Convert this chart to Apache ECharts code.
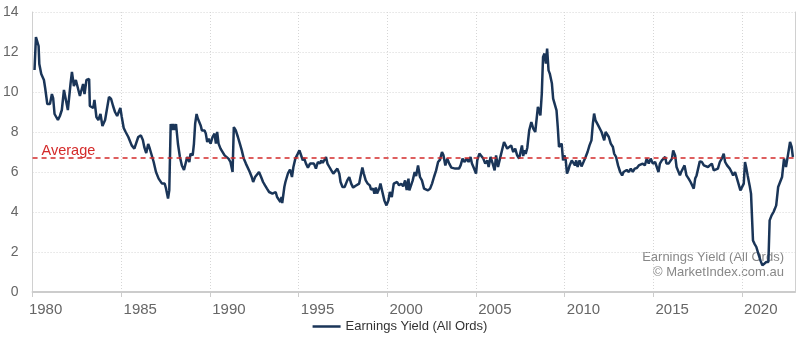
<!DOCTYPE html>
<html>
<head>
<meta charset="utf-8">
<script src="https://cdn.jsdelivr.net/npm/echarts@6/dist/echarts.min.js"></script>
<style>
html,body{margin:0;padding:0;background:#fff;}
#chart{width:800px;height:344px;}
</style>
</head>
<body>
<div id="chart"></div>
<script>
// Decimal-year positions of the observations
const years = [
1980.11,1980.19,1980.26,1980.34,1980.38,1980.49,1980.64,1980.71,1980.83,1980.98,
1981.09,1981.16,1981.24,1981.43,1981.54,1981.65,1981.77,1981.88,1981.99,
1982.14,1982.22,1982.33,1982.44,1982.55,1982.67,1982.74,1982.85,1982.93,
1983.04,1983.19,1983.23,1983.31,1983.42,1983.49,1983.60,1983.71,1983.83,1983.94,
1984.09,1984.20,1984.31,1984.43,1984.54,1984.65,1984.77,1984.88,1984.95,
1985.03,1985.14,1985.25,1985.40,1985.50,1985.59,1985.74,1985.85,1985.96,
1986.11,1986.22,1986.30,1986.41,1986.52,1986.60,1986.71,1986.83,1986.96,
1987.11,1987.30,1987.45,1987.52,1987.64,1987.71,1987.79,1987.86,1987.93,
1988.01,1988.09,1988.20,1988.31,1988.42,1988.54,1988.65,1988.72,1988.84,1988.91,
1989.03,1989.10,1989.17,1989.25,1989.32,1989.40,1989.48,1989.55,1989.62,1989.70,1989.77,1989.85,1989.93,
1990.04,1990.15,1990.26,1990.34,1990.41,1990.49,1990.60,1990.71,1990.83,1990.94,
1991.05,1991.16,1991.28,1991.35,1991.46,1991.58,1991.69,1991.80,1991.91,
1992.03,1992.14,1992.25,1992.36,1992.44,1992.55,1992.66,1992.77,1992.89,
1993.00,1993.11,1993.22,1993.34,1993.45,1993.53,1993.64,1993.71,1993.79,1993.90,1993.98,
1994.04,1994.08,1994.20,1994.26,1994.33,1994.41,1994.52,1994.63,1994.71,1994.82,1994.94,
1995.05,1995.12,1995.24,1995.31,1995.42,1995.53,1995.65,1995.76,1995.87,1995.98,
1996.09,1996.21,1996.28,1996.36,1996.47,1996.55,1996.63,1996.74,1996.85,1996.96,
1997.07,1997.19,1997.30,1997.37,1997.48,1997.60,1997.67,1997.75,1997.86,1997.97,
1998.08,1998.20,1998.31,1998.42,1998.49,1998.60,1998.68,1998.79,1998.90,
1999.02,1999.09,1999.21,1999.28,1999.36,1999.43,1999.55,1999.62,1999.73,1999.84,1999.96,
2000.07,2000.15,2000.26,2000.37,2000.48,2000.56,2000.67,2000.79,2000.90,
2001.01,2001.10,2001.20,2001.25,2001.36,2001.44,2001.55,2001.63,2001.74,2001.85,2001.96,
2002.08,2002.19,2002.30,2002.42,2002.53,2002.64,2002.76,2002.87,2002.98,
2003.09,2003.17,2003.28,2003.39,2003.50,2003.62,2003.73,2003.84,2003.95,
2004.05,2004.14,2004.25,2004.37,2004.48,2004.59,2004.70,2004.78,2004.90,
2005.01,2005.08,2005.20,2005.31,2005.42,2005.53,2005.65,2005.72,2005.83,2005.95,
2006.06,2006.14,2006.25,2006.36,2006.47,2006.59,2006.70,2006.77,2006.88,2006.99,
2007.11,2007.22,2007.33,2007.44,2007.52,2007.60,2007.67,2007.75,2007.81,2007.90,
2008.01,2008.13,2008.24,2008.35,2008.42,2008.50,2008.57,2008.64,2008.72,2008.79,2008.87,2008.95,
2009.02,2009.10,2009.17,2009.29,2009.36,2009.47,2009.55,2009.62,2009.69,2009.77,2009.84,2009.92,2009.99,
2010.07,2010.14,2010.22,2010.29,2010.41,2010.48,2010.59,2010.66,2010.74,2010.85,2010.96,
2011.07,2011.19,2011.30,2011.41,2011.52,2011.60,2011.67,2011.75,2011.82,2011.90,
2012.01,2012.09,2012.16,2012.24,2012.32,2012.43,2012.50,2012.61,2012.73,2012.80,2012.91,
2013.02,2013.14,2013.25,2013.33,2013.40,2013.51,2013.63,2013.74,2013.85,2013.96,
2014.08,2014.19,2014.30,2014.41,2014.53,2014.64,2014.75,2014.86,2014.98,
2015.11,2015.22,2015.30,2015.38,2015.49,2015.56,2015.68,2015.75,2015.87,2015.98,
2016.06,2016.13,2016.24,2016.32,2016.43,2016.51,2016.58,2016.66,2016.77,2016.88,
2017.00,2017.11,2017.22,2017.29,2017.37,2017.45,2017.56,2017.63,2017.75,2017.86,2017.97,
2018.09,2018.20,2018.31,2018.42,2018.53,2018.65,2018.76,2018.87,2018.98,
2019.06,2019.17,2019.32,2019.42,2019.51,2019.62,2019.73,2019.84,2019.92,
2020.03,2020.11,2020.18,2020.26,2020.33,2020.44,2020.52,2020.63,2020.71,2020.82,2020.93,
2021.05,2021.16,2021.27,2021.38,2021.50,2021.57,2021.68,2021.79,2021.87,2021.94,
2022.05,2022.16,2022.27,2022.38,2022.49,2022.60,2022.72,2022.81,2022.88
];
// Earnings yield (%) for each position above
const values = [
11.1,12.75,12.65,12.3,11.4,10.9,10.6,10.2,9.4,9.4,
9.9,9.7,8.9,8.6,8.8,9.1,10.1,9.6,9.1,
10.4,11.0,10.3,10.6,10.65,9.8,9.9,10.4,9.9,
10.6,10.65,9.3,9.4,9.2,9.6,8.75,8.6,8.9,8.3,
8.6,8.5,9.75,9.65,9.3,9.0,8.8,8.7,9.2,
8.75,8.2,8.0,7.75,7.8,7.33,7.17,7.1,7.75,
7.83,7.6,7.25,6.95,7.4,7.2,7.1,6.5,6.0,
5.67,5.42,5.42,5.2,4.67,5.08,8.4,8.1,8.4,
8.1,8.4,7.4,6.75,6.33,6.1,6.5,6.75,6.5,6.92,
6.83,7.4,8.42,8.9,8.67,8.75,8.33,8.08,8.0,8.08,7.92,7.5,7.67,
7.42,7.75,7.92,7.42,8.0,7.42,7.17,7.08,6.83,6.92,
6.67,6.5,6.0,8.25,8.08,7.75,7.42,7.08,6.67,
6.42,6.35,6.0,5.75,5.5,5.75,5.7,6.0,5.75,
5.5,5.33,5.17,5.0,5.1,4.92,4.83,5.0,4.75,4.75,4.5,
4.75,4.45,5.25,5.5,5.4,5.95,6.12,5.75,6.25,6.67,6.88,
7.08,6.9,6.58,6.7,6.42,6.22,6.42,6.33,6.42,6.17,
6.5,6.42,6.58,6.45,6.62,6.75,6.42,6.25,6.08,5.92,
5.92,6.17,5.92,5.5,5.25,5.25,5.22,5.58,5.75,5.42,
5.22,5.3,5.33,5.42,5.75,6.22,5.92,5.58,5.42,
5.33,5.12,5.17,4.92,5.22,4.92,5.17,5.42,5.0,4.58,4.33,
4.58,5.0,4.75,5.42,5.33,5.5,5.33,5.42,5.28,
5.58,5.1,5.67,5.08,5.1,5.58,6.0,5.8,6.33,5.75,5.58,
5.17,5.08,5.08,5.17,5.42,5.75,6.08,6.5,6.62,
7.0,6.85,6.33,6.67,6.42,6.22,6.12,6.17,6.1,
6.17,6.33,6.67,6.5,6.67,6.5,6.75,6.42,6.17,
5.92,6.58,6.92,7.0,6.67,6.42,6.58,6.25,6.75,6.42,
6.08,6.83,6.25,6.67,6.6,7.5,7.5,7.17,7.17,7.33,
7.0,7.17,6.83,6.67,6.6,7.33,6.8,7.08,6.9,7.2,
8.08,8.5,8.17,8.0,8.0,9.25,9.08,8.83,9.92,11.75,11.92,11.42,
12.17,11.08,10.92,10.42,9.67,9.67,9.08,8.25,7.25,7.15,7.42,6.58,6.83,
6.6,5.92,6.1,6.33,6.58,6.67,6.33,6.58,6.25,6.58,6.28,
6.5,6.75,7.0,7.33,7.58,8.42,8.92,8.58,8.67,8.33,
8.25,8.0,8.0,7.58,8.0,8.0,7.75,7.42,7.25,6.92,6.75,
6.33,6.0,5.83,6.0,5.92,6.1,6.0,6.17,6.0,6.17,
6.2,6.33,6.25,6.42,6.33,6.67,6.42,6.67,6.42,
6.5,6.45,6.0,6.42,6.58,6.5,6.75,6.42,6.42,6.42,
6.67,7.08,6.83,6.25,6.17,5.83,6.0,6.08,6.33,5.83,
5.67,5.5,5.42,5.17,5.67,5.83,5.8,6.53,6.5,6.33,6.42,
6.25,6.33,6.42,6.08,6.0,6.17,6.5,6.67,6.92,
6.5,6.33,6.17,6.0,5.83,6.0,5.67,5.58,5.08,
5.0,5.42,6.5,6.17,5.83,5.33,4.92,2.58,2.42,2.25,1.92,
1.58,1.33,1.25,1.5,1.5,3.58,3.83,4.0,4.17,4.33,
5.25,5.5,5.75,6.67,6.25,6.83,7.5,7.25,6.75
];
const averageValue = 6.7;
const xTicks = [1980, 1985, 1990, 1995, 2000, 2005, 2010, 2015, 2020];
const seriesName = 'Earnings Yield (All Ords)';
const sourceLines = ['Earnings Yield (All Ords)', '\u00A9 MarketIndex.com.au'];

const data = years.map((y, i) => [y, values[i]]);
const chart = echarts.init(document.getElementById('chart'), null, {renderer: 'canvas'});
const FONT = 'Liberation Sans, Arial, sans-serif';
chart.setOption({
  animation: false,
  textStyle: {fontFamily: FONT},
  grid: {left: 31, right: 5, top: 12, bottom: 52, containLabel: false},
  legend: {
    bottom: 6, left: 'center',
    itemWidth: 28, itemHeight: 12, itemGap: 10,
    textStyle: {fontSize: 13, color: '#333', fontFamily: FONT},
    data: [{name: seriesName, icon: 'path://M0,5 L28,5 L28,7.5 L0,7.5 Z'}]
  },
  xAxis: {
    type: 'value', min: 1980, max: 2023, interval: 5,
    axisLine: {show: true, lineStyle: {color: '#cccccc', width: 2}},
    axisTick: {show: true, length: 5, lineStyle: {color: '#cccccc'}},
    axisLabel: {
      show: true, color: '#666', fontSize: 15, fontFamily: FONT, margin: 10,
      align: 'center',
      showMaxLabel: false,
      formatter: v => !xTicks.includes(v) ? '' : (v === xTicks[0] ? '{first|' + v + '}' : '{reg|' + v + '}'),
      rich: {
        first: {color: '#666', fontSize: 15, fontFamily: FONT, padding: [0, 0, 0, 26]},
        reg: {color: '#666', fontSize: 15, fontFamily: FONT, padding: [0, 0, 0, 38]}
      }
    },
    splitLine: {show: true, lineStyle: {color: '#d6d6d6', type: [1, 2], width: 1}}
  },
  yAxis: [{
    type: 'value', min: 0, max: 14, interval: 2,
    axisLine: {show: true, lineStyle: {color: '#d0d0d0', width: 1}},
    axisTick: {show: false},
    axisLabel: {color: '#666', fontSize: 14, fontFamily: FONT, margin: 14},
    splitLine: {show: true, lineStyle: {color: '#d6d6d6', type: [1, 2], width: 1}}
  }, {
    type: 'value', min: 0, max: 14, interval: 2, position: 'right',
    axisLine: {show: true, lineStyle: {color: '#d0d0d0', width: 1}},
    axisTick: {show: false}, axisLabel: {show: false}, splitLine: {show: false}
  }],
  series: [{
    name: seriesName,
    type: 'line',
    data: data,
    showSymbol: false,
    symbol: 'none',
    lineStyle: {color: '#1a3558', width: 2.5},
    itemStyle: {color: '#1a3558'},
    z: 3,
    markLine: {
      silent: true, symbol: 'none',
      lineStyle: {color: '#d42a2a', type: [5, 4], width: 1.5},
      label: {
        show: true, position: 'insideStartTop', formatter: 'Average',
        color: '#d42a2a', fontSize: 14.5, fontFamily: FONT, distance: [9, 0]
      },
      data: [{yAxis: averageValue}]
    }
  }],
  graphic: [
    {type: 'text', right: 16, top: 251, style: {text: sourceLines[0], fill: '#888', font: '13px ' + FONT, textAlign: 'right'}},
    {type: 'text', right: 16, top: 266, style: {text: sourceLines[1], fill: '#888', font: '13px ' + FONT, textAlign: 'right'}}
  ]
});
</script>
</body>
</html>
